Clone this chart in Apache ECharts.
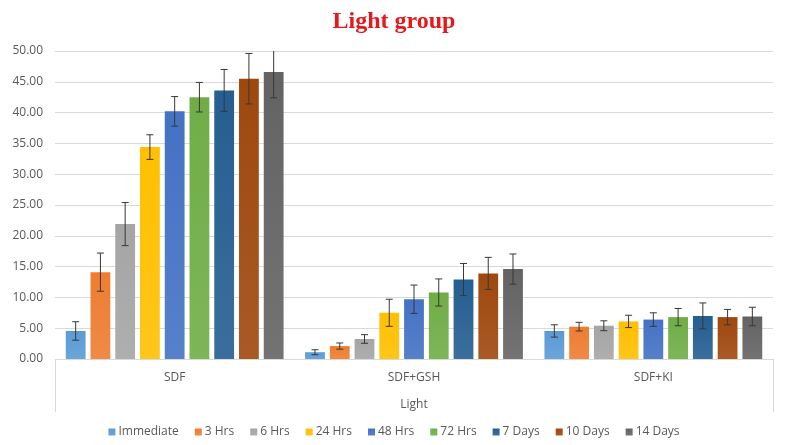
<!DOCTYPE html>
<html>
<head>
<meta charset="utf-8">
<script src="https://cdn.jsdelivr.net/npm/echarts@6/dist/echarts.min.js"></script>
<style>html,body{margin:0;padding:0;background:#fff}#c{width:788px;height:445px}</style>
</head>
<body>
<div id="c"></div>
<script>
var categories = ['SDF', 'SDF+GSH', 'SDF+KI'];
var groupLabel = ['Light'];
var seriesNames = ['Immediate', '3 Hrs', '6 Hrs', '24 Hrs', '48 Hrs', '72 Hrs', '7 Days', '10 Days', '14 Days'];
var colors = ['#5B9BD5', '#ED7D31', '#A5A5A5', '#FFC000', '#4472C4', '#70AD47', '#255E91', '#9E480E', '#636363'];
// values per series: [SDF, SDF+GSH, SDF+KI]
var values = [
  [4.55, 1.1, 4.55],
  [14.1, 2.1, 5.25],
  [21.9, 3.25, 5.4],
  [34.4, 7.5, 6.1],
  [40.2, 9.7, 6.4],
  [42.5, 10.8, 6.8],
  [43.6, 12.9, 7.0],
  [45.5, 13.9, 6.8],
  [46.6, 14.6, 6.9]
];
var errors = [
  [1.5, 0.4, 1.0],
  [3.1, 0.5, 0.7],
  [3.5, 0.7, 0.8],
  [2.0, 2.2, 1.0],
  [2.4, 2.3, 1.1],
  [2.4, 2.2, 1.4],
  [3.4, 2.6, 2.1],
  [4.1, 2.6, 1.25],
  [4.2, 2.45, 1.5]
];
var yTicks = {min: 0, max: 50, interval: 5};

var CAT_GAP = 0.09, BAR_GAP = 0.25, N = seriesNames.length;

function lighten(hex, f) {
  var r = parseInt(hex.substr(1,2),16), g = parseInt(hex.substr(3,2),16), b = parseInt(hex.substr(5,2),16);
  r = Math.round(r + (255 - r) * f); g = Math.round(g + (255 - g) * f); b = Math.round(b + (255 - b) * f);
  return 'rgb(' + r + ',' + g + ',' + b + ')';
}

var series = [];
seriesNames.forEach(function (name, i) {
  series.push({
    name: name,
    type: 'bar',
    barGap: (BAR_GAP * 100) + '%',
    barCategoryGap: (CAT_GAP * 100) + '%',
    data: values[i],
    itemStyle: {
      color: {
        type: 'linear', x: 0, y: 0, x2: 0, y2: 1,
        colorStops: [{offset: 0, color: colors[i]}, {offset: 1, color: lighten(colors[i], 0.1)}]
      }
    },
    emphasis: {disabled: true}
  });
});
seriesNames.forEach(function (name, i) {
  series.push({
    type: 'custom',
    name: name,
    clip: true,
    z: 10,
    silent: true,
    data: values[i].map(function (v, j) { return [j, v, errors[i][j]]; }),
    renderItem: function (params, api) {
      var c = api.value(0), v = api.value(1), e = api.value(2);
      var band = api.size([1, 0])[0];
      var usable = band * (1 - CAT_GAP);
      var w = usable / (N + (N - 1) * BAR_GAP);
      var off = -usable / 2 + i * w * (1 + BAR_GAP) + w / 2;
      var pHi = api.coord([c, v + e]);
      var pLo = api.coord([c, v - e]);
      var x = pHi[0] + off;
      var cap = 3.5;
      var st = {stroke: '#383838', lineWidth: 1};
      return {
        type: 'group',
        children: [
          {type: 'line', shape: {x1: x, y1: pHi[1], x2: x, y2: pLo[1]}, style: st},
          {type: 'line', shape: {x1: x - cap, y1: pHi[1], x2: x + cap, y2: pHi[1]}, style: st},
          {type: 'line', shape: {x1: x - cap, y1: pLo[1], x2: x + cap, y2: pLo[1]}, style: st}
        ]
      };
    }
  });
});

var font = 'Open Sans';
var chart = echarts.init(document.getElementById('c'), null, {renderer: 'canvas'});
chart.setOption({
  animation: false,
  backgroundColor: '#fff',
  title: {
    text: 'Light group',
    left: 'center',
    top: 5,
    textStyle: {color: '#E3191C', fontFamily: 'Liberation Serif', fontWeight: 'bold', fontSize: 24}
  },
  legend: {
    data: seriesNames,
    bottom: 2,
    left: 'center',
    icon: 'rect',
    itemWidth: 7,
    itemHeight: 7,
    itemGap: 16,
    textStyle: {color: '#595959', fontSize: 12, fontFamily: font, padding: [0, 0, 0, -2]}
  },
  grid: {left: 55, right: 15, top: 51, bottom: 86, containLabel: false},
  xAxis: [{
    type: 'category',
    data: categories,
    axisLine: {lineStyle: {color: '#d9d9d9'}},
    axisTick: {show: false},
    axisLabel: {color: '#595959', fontSize: 12, fontFamily: font, margin: 13}
  }, {
    type: 'category',
    data: groupLabel,
    position: 'bottom',
    offset: 53,
    axisLine: {show: false},
    axisTick: {show: true, inside: true, length: 53, lineStyle: {color: '#d9d9d9'}},
    axisLabel: {inside: true, color: '#595959', fontSize: 12, fontFamily: font, margin: 1},
    splitLine: {show: false}
  }],
  yAxis: {
    type: 'value',
    min: yTicks.min,
    max: yTicks.max,
    interval: yTicks.interval,
    axisLine: {show: false},
    axisTick: {show: false},
    splitLine: {lineStyle: {color: '#d9d9d9'}},
    axisLabel: {color: '#595959', fontSize: 12, fontFamily: font, margin: 12,
      formatter: function (v) { return v.toFixed(2); }}
  },
  series: series
});
</script>
</body>
</html>
